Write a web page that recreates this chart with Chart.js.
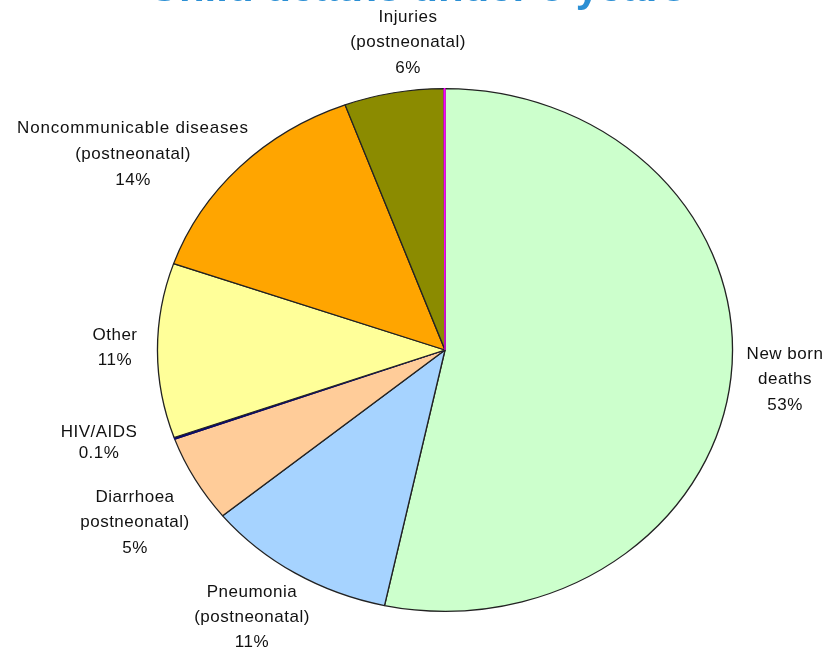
<!DOCTYPE html>
<html>
<head>
<meta charset="utf-8">
<script src="https://cdn.jsdelivr.net/npm/chart.js@4.4.1/dist/chart.umd.min.js"></script>
<style>
  html, body { margin: 0; padding: 0; background: #fff; }
  #wrap { width: 822px; height: 651px; position: relative; }
</style>
</head>
<body>
<div id="wrap"><canvas id="pie"></canvas></div>
<script>
// categories, clockwise from 12 o'clock (label lines as drawn)
const categories = [
    ['New born', 'deaths'],
    ['Pneumonia', '(postneonatal)'],
    ['Diarrhoea', 'postneonatal)'],
    ['HIV/AIDS'],
    ['Other'],
    ['Noncommunicable diseases', '(postneonatal)'],
    ['Injuries', '(postneonatal)'],
    ['(unlabelled)']
];
const shares = [53.4, 10.7, 5.4, 0.1, 10.8, 14.0, 5.6, 0.05];
const shareLabels = ['53%', '11%', '5%', '0.1%', '11%', '14%', '6%', ''];

const sliceColors = ['#ccffcc', '#a6d3ff', '#ffcc99', '#0a0a6e', '#ffff99', '#ffa500', '#8b8b00', '#ff00ff'];
const sliceBorders = ['#222', '#222', '#222', '#0a0a6e', '#222', '#222', '#222', '#ff00ff'];

// where each text block sits (first line centre) and line step
const labelLayout = [
    { x: 785, y: 354, step: 25.5 },
    { x: 252, y: 592, step: 25 },
    { x: 135, y: 497, step: 25.5 },
    { x: 99,  y: 432, step: 21 },
    { x: 115, y: 335, step: 25 },
    { x: 133, y: 128, step: 26 },
    { x: 408, y: 17,  step: 25.5 },
    null
];

const stretchX = 1.1;

// the original pie is slightly wider than tall
const stretchPlugin = {
    id: 'stretch',
    beforeDatasetsDraw(chart) {
        const arc = chart.getDatasetMeta(0).data[0];
        const ctx = chart.ctx;
        ctx.save();
        ctx.translate(arc.x, arc.y);
        ctx.scale(stretchX, 1);
        ctx.translate(-arc.x, -arc.y);
    },
    afterDatasetsDraw(chart) {
        chart.ctx.restore();
    }
};

const textPlugin = {
    id: 'texts',
    afterDraw(chart) {
        const ctx = chart.ctx;
        ctx.save();
        // title, cut off at the top of the picture
        ctx.fillStyle = '#2b8fd4';
        ctx.font = 'bold 42px "Liberation Sans", Arial, sans-serif';
        ctx.textAlign = 'center';
        ctx.textBaseline = 'alphabetic';
        ctx.fillText('Child deaths under 5 years', 417, 1);

        ctx.fillStyle = '#111';
        ctx.font = '17px "Liberation Sans", Arial, sans-serif';
        ctx.textBaseline = 'middle';
        categories.forEach((lines, i) => {
            const pos = labelLayout[i];
            if (!pos) return;
            const all = lines.concat([shareLabels[i]]);
            all.forEach((t, j) => {
                // the long first line is spread wider in the original
                ctx.letterSpacing = t.length > 20 ? '0.8px' : '0.5px';
                ctx.fillText(t, pos.x, pos.y + j * pos.step);
            });
        });
        ctx.restore();
    }
};

new Chart(document.getElementById('pie'), {
    type: 'pie',
    data: {
        labels: categories,
        datasets: [{
            data: shares,
            backgroundColor: sliceColors,
            borderColor: sliceBorders,
            borderWidth: 1.2
        }]
    },
    options: {
        responsive: true,
        maintainAspectRatio: false,
        animation: false,
        layout: { padding: { left: 183, right: 115, top: 88, bottom: 39 } },
        plugins: {
            legend: { display: false },
            tooltip: { enabled: false }
        }
    },
    plugins: [stretchPlugin, textPlugin]
});
</script>
</body>
</html>
